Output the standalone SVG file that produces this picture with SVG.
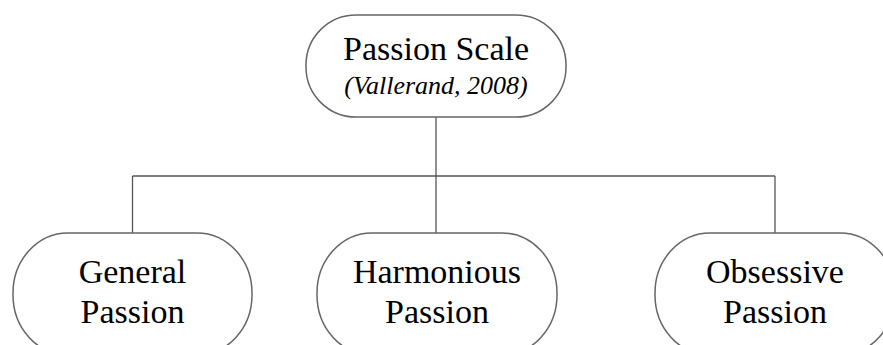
<svg xmlns="http://www.w3.org/2000/svg" width="883" height="345" viewBox="0 0 883 345">
<style>
.node{fill:#fff;stroke:#666;stroke-width:1.5}
.conn{fill:none;stroke:#555;stroke-width:1.3}
text{font-family:'Liberation Serif','DejaVu Serif',serif;fill:#000;text-anchor:middle}
.t{font-size:34px}
.i{font-size:26px;font-style:italic}
</style>
<rect width="883" height="345" fill="#fff"/>
<g id="connectors">
<line class="conn" x1="436" y1="117" x2="436" y2="176"/>
<line class="conn" x1="132.5" y1="176" x2="775" y2="176"/>
<line class="conn" x1="132.5" y1="176" x2="132.5" y2="233"/>
<line class="conn" x1="436" y1="176" x2="436" y2="233"/>
<line class="conn" x1="775" y1="176" x2="775" y2="233"/>
</g>
<g id="passion-scale">
<rect class="node" x="306" y="15" width="260" height="102" rx="50" ry="50"/>
<text class="t" x="436" y="60">Passion Scale</text>
<text class="i" x="436" y="94">(Vallerand, 2008)</text>
</g>
<g id="general-passion">
<rect class="node" x="13" y="233" width="239" height="122" rx="55" ry="60"/>
<text class="t" x="132.5" y="283">General</text>
<text class="t" x="132.5" y="323">Passion</text>
</g>
<g id="harmonious-passion">
<rect class="node" x="317" y="233" width="240" height="122" rx="55" ry="60"/>
<text class="t" x="437" y="283">Harmonious</text>
<text class="t" x="437" y="323">Passion</text>
</g>
<g id="obsessive-passion">
<rect class="node" x="655" y="233" width="240" height="122" rx="55" ry="60"/>
<text class="t" x="775" y="283">Obsessive</text>
<text class="t" x="775" y="323">Passion</text>
</g>
</svg>
